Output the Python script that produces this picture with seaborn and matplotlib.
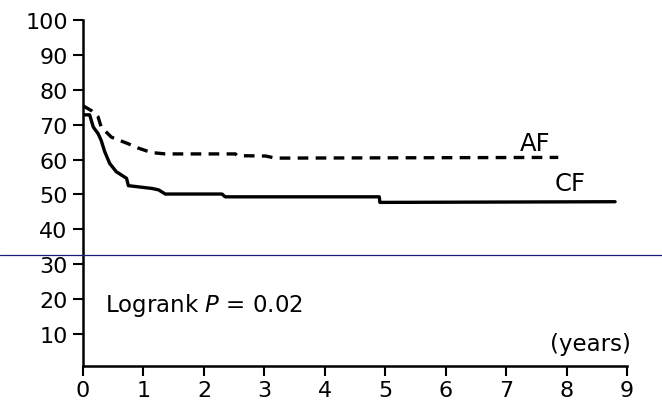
import numpy as np
import pandas as pd
import matplotlib
matplotlib.use('Agg')
import matplotlib.pyplot as plt
import seaborn as sns
from matplotlib.lines import Line2D

# survival curves (time in years, percent)
af_years = [0.0, 0.14, 0.25, 0.30, 0.47, 0.75, 0.91, 1.13, 1.36, 2.52, 2.55, 3.02, 3.18, 7.86]
af_surv = [75.4, 74.0, 72.2, 69.3, 66.4, 64.5, 63.3, 62.0, 61.6, 61.6, 61.1, 61.0, 60.4, 60.6]

cf_years = [0.0, 0.11, 0.17, 0.25, 0.30, 0.36, 0.44, 0.55, 0.72, 0.75, 1.14, 1.25, 1.36,
            2.30, 2.35, 4.90, 4.91, 8.80]
cf_surv = [72.8, 72.8, 69.3, 67.4, 65.5, 62.2, 58.9, 56.5, 54.6, 52.5, 51.7, 51.3, 50.1,
           50.1, 49.3, 49.3, 47.7, 47.9]

y_ticks = [10, 20, 30, 40, 50, 60, 70, 80, 90, 100]
x_ticks = [0, 1, 2, 3, 4, 5, 6, 7, 8, 9]

sns.set_style('ticks')
plt.rcParams['font.family'] = ['DejaVu Sans']
plt.rcParams['text.color'] = 'black'
plt.rcParams['xtick.color'] = 'black'
plt.rcParams['ytick.color'] = 'black'

df_af = pd.DataFrame({'years': af_years, 'surv': af_surv})
df_cf = pd.DataFrame({'years': cf_years, 'surv': cf_surv})

fig = plt.figure(figsize=(6.62, 4.02), dpi=100)
ax = fig.add_axes([0.1254, 0.0871, 0.822, 0.8607])

sns.lineplot(data=df_af, x='years', y='surv', ax=ax, color='black', lw=2.4,
             linestyle=(0, (3.2, 2.2)), sort=False, estimator=None)
sns.lineplot(data=df_cf, x='years', y='surv', ax=ax, color='black', lw=2.4,
             sort=False, estimator=None)

ax.set_xlim(0, 9)
ax.set_ylim(0.8, 100)
ax.set_xticks(x_ticks)
ax.set_yticks(y_ticks)
ax.set_xlabel('')
ax.set_ylabel('')
ax.tick_params(axis='both', labelsize=16, width=1.5, length=7, color='black',
               labelcolor='black', pad=4)
ax.tick_params(axis='x', pad=3)
sns.despine(ax=ax)
for s in ['left', 'bottom']:
    ax.spines[s].set_linewidth(1.8)
    ax.spines[s].set_color('black')

ax.text(7.47, 64.6, 'AF', fontsize=17.5, ha='center', va='center', color='black')
ax.text(8.05, 53.2, 'CF', fontsize=17.5, ha='center', va='center', color='black')
ax.text(0.36, 18.3, 'Logrank $\\mathit{P}$ = 0.02', fontsize=16.5, ha='left', va='center',
        color='black')
ax.text(8.39, 7.3, '(years)', fontsize=16.5, ha='center', va='center', color='black')

# thin blue rule running across the scan
fig.add_artist(Line2D([0, 1], [1 - 256 / 402, 1 - 256 / 402], transform=fig.transFigure,
                      color='#1a1a80', lw=0.9))

fig.savefig('out.png', dpi=100)
